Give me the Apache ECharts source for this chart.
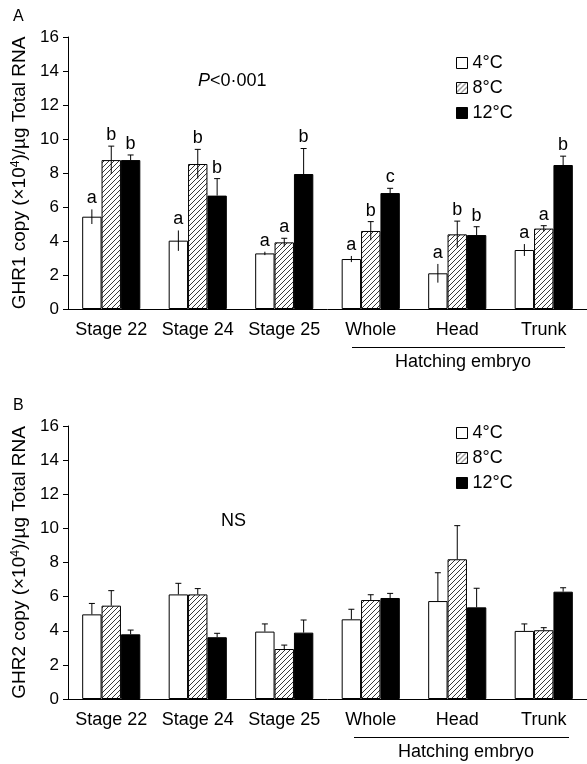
<!DOCTYPE html>
<html>
<head>
<meta charset="utf-8">
<script src="https://cdn.jsdelivr.net/npm/echarts@6/dist/echarts.min.js"></script>
<style>
  html, body { margin: 0; padding: 0; background: #fff; }
  #main { width: 587px; height: 764px; }
</style>
</head>
<body>
<div id="main"></div>
<script>
  var categories = ['Stage 22', 'Stage 24', 'Stage 25', 'Whole', 'Head', 'Trunk'];
  var temps = ['4°C', '8°C', '12°C'];
  var yTicks = [0, 2, 4, 6, 8, 10, 12, 14, 16];

  // panel A: GHR1
  var ghr1_4 = [5.43, 4.02, 3.27, 2.94, 2.10, 3.47];
  var ghr1_4_err = [0.43, 0.60, 0.10, 0.18, 0.55, 0.35];
  var ghr1_4_sig = ['a', 'a', 'a', 'a', 'a', 'a'];
  var ghr1_8 = [8.76, 8.53, 3.92, 4.59, 4.39, 4.73];
  var ghr1_8_err = [0.82, 0.86, 0.24, 0.55, 0.78, 0.17];
  var ghr1_8_sig = ['b', 'b', 'a', 'b', 'b', 'a'];
  var ghr1_12 = [8.76, 6.67, 7.94, 6.82, 4.35, 8.47];
  var ghr1_12_err = [0.30, 1.00, 1.50, 0.28, 0.49, 0.52];
  var ghr1_12_sig = ['b', 'b', 'b', 'c', 'b', 'b'];

  // panel B: GHR2
  var ghr2_4 = [4.96, 6.13, 3.95, 4.67, 5.74, 3.99];
  var ghr2_4_err = [0.64, 0.65, 0.45, 0.59, 1.66, 0.41];
  var ghr2_8 = [5.47, 6.13, 2.93, 5.80, 8.19, 4.03];
  var ghr2_8_err = [0.88, 0.34, 0.23, 0.31, 1.97, 0.15];
  var ghr2_12 = [3.79, 3.62, 3.89, 5.92, 5.37, 6.29];
  var ghr2_12_err = [0.25, 0.23, 0.74, 0.27, 1.12, 0.23];

  var FONT = '"Liberation Sans", Arial, sans-serif';
  var BAR_FRAC = 0.224;

  // diagonal hatch for the 8°C bars
  var hatch = document.createElement('canvas');
  hatch.width = 5; hatch.height = 5;
  (function () {
    var c = hatch.getContext('2d');
    c.fillStyle = '#fff';
    c.fillRect(0, 0, 5, 5);
    c.strokeStyle = '#222';
    c.lineWidth = 0.9;
    c.beginPath();
    c.moveTo(-1, 6); c.lineTo(6, -1);
    c.moveTo(-1, 1); c.lineTo(1, -1);
    c.moveTo(4, 6); c.lineTo(6, 4);
    c.stroke();
  })();

  var barStyles = [
    { color: '#fff', borderColor: '#000', borderWidth: 1 },
    { color: { image: hatch, repeat: 'repeat' }, borderColor: '#000', borderWidth: 1 },
    { color: '#000', borderColor: '#000', borderWidth: 1 }
  ];

  function errSeries(panel, slot, values, errs, letters, opts) {
    return {
      type: 'custom',
      xAxisIndex: panel,
      yAxisIndex: panel,
      z: 5,
      silent: true,
      clip: false,
      encode: { x: 0, y: 1 },
      data: values.map(function (v, i) { return [i, v, errs[i]]; }),
      renderItem: function (params, api) {
        var ci = api.value(0), v = api.value(1), e = api.value(2);
        var band = api.size([1, 0])[0];
        var bw = band * BAR_FRAC;
        var cx = api.coord([ci, v])[0] + (slot - 1) * bw;
        var yTop = api.coord([ci, v + e])[1];
        var yBot = api.coord([ci, opts.both ? v - e : v])[1];
        var kids = [{
          type: 'line',
          shape: { x1: cx, y1: yTop, x2: cx, y2: yBot },
          style: { stroke: '#000', lineWidth: 1 }
        }];
        if (opts.cap) {
          kids.push({
            type: 'line',
            shape: { x1: cx - 3, y1: yTop, x2: cx + 3, y2: yTop },
            style: { stroke: '#000', lineWidth: 1 }
          });
        }
        if (letters) {
          kids.push({
            type: 'text',
            style: {
              text: letters[params.dataIndex], x: cx, y: yTop - 2,
              align: 'center', verticalAlign: 'bottom',
              font: '18px ' + FONT, fill: '#000'
            }
          });
        }
        return { type: 'group', children: kids };
      }
    };
  }

  function barSeries(panel, slot, values) {
    return {
      type: 'bar',
      name: temps[slot],
      xAxisIndex: panel,
      yAxisIndex: panel,
      barWidth: (BAR_FRAC * 100) + '%',
      barGap: '0%',
      itemStyle: barStyles[slot],
      emphasis: { disabled: true },
      data: values
    };
  }

  function xAxis(grid) {
    return {
      type: 'category',
      gridIndex: grid,
      data: categories,
      axisLine: { lineStyle: { color: '#000', width: 1 } },
      axisTick: { length: 5, lineStyle: { color: '#000' } },
      axisLabel: { color: '#000', fontSize: 18, fontFamily: FONT, margin: 12, interval: 0 }
    };
  }

  function yAxis(grid, title) {
    return {
      type: 'value',
      gridIndex: grid,
      min: yTicks[0],
      max: yTicks[yTicks.length - 1],
      interval: 2,
      splitLine: { show: false },
      axisLine: { show: true, lineStyle: { color: '#000', width: 1 } },
      axisTick: { show: true, length: 5, lineStyle: { color: '#000' } },
      axisLabel: { color: '#000', fontSize: 17, fontFamily: FONT, margin: 9 },
      name: title,
      nameLocation: 'middle',
      nameRotate: 90,
      nameGap: 39,
      nameTextStyle: {
        color: '#000', fontSize: 19, fontFamily: FONT,
        rich: {
          t: { fontSize: 19, fontFamily: FONT, color: '#000' },
          s: { fontSize: 12, fontFamily: FONT, color: '#000', verticalAlign: 'top', lineHeight: 10 }
        }
      }
    };
  }

  function legend(top) {
    return {
      data: temps,
      orient: 'vertical',
      left: 451,
      top: top,
      icon: 'rect',
      itemWidth: 11,
      itemHeight: 11,
      itemGap: 7,
      selectedMode: false,
      itemStyle: { borderWidth: 1, borderColor: '#000' },
      textStyle: { color: '#000', fontSize: 18, fontFamily: FONT }
    };
  }

  var chart = echarts.init(document.getElementById('main'));

  var option = {
    animation: false,
    backgroundColor: '#fff',
    grid: [
      { left: 68, top: 37, width: 521, height: 272 },
      { left: 68, top: 426, width: 521, height: 273 }
    ],
    legend: [legend(49), legend(419)],
    xAxis: [xAxis(0), xAxis(1)],
    yAxis: [
      yAxis(0, '{t|GHR1 copy (×10}{s|4}{t|)/µg Total RNA}'),
      yAxis(1, '{t|GHR2 copy (×10}{s|4}{t|)/µg Total RNA}')
    ],
    series: [
      barSeries(0, 0, ghr1_4), barSeries(0, 1, ghr1_8), barSeries(0, 2, ghr1_12),
      barSeries(1, 0, ghr2_4), barSeries(1, 1, ghr2_8), barSeries(1, 2, ghr2_12),
      errSeries(0, 0, ghr1_4, ghr1_4_err, ghr1_4_sig, { both: true, cap: false }),
      errSeries(0, 1, ghr1_8, ghr1_8_err, ghr1_8_sig, { both: true, cap: true }),
      errSeries(0, 2, ghr1_12, ghr1_12_err, ghr1_12_sig, { both: false, cap: true }),
      errSeries(1, 0, ghr2_4, ghr2_4_err, null, { both: false, cap: true }),
      errSeries(1, 1, ghr2_8, ghr2_8_err, null, { both: false, cap: true }),
      errSeries(1, 2, ghr2_12, ghr2_12_err, null, { both: false, cap: true })
    ],
    graphic: [
      { type: 'text', left: 13, top: 9, style: { text: 'A', font: '16px ' + FONT, fill: '#000' } },
      { type: 'text', left: 13, top: 398, style: { text: 'B', font: '16px ' + FONT, fill: '#000' } },
      {
        type: 'text', left: 198, top: 72,
        style: {
          text: '{i|P}{n|<0·001}',
          rich: {
            i: { font: 'italic 18px ' + FONT, fill: '#000' },
            n: { font: '18px ' + FONT, fill: '#000' }
          }
        }
      },
      { type: 'text', left: 221, top: 512, style: { text: 'NS', font: '18px ' + FONT, fill: '#000' } },
      // hatching embryo brackets
      { type: 'line', shape: { x1: 352, y1: 347.5, x2: 565, y2: 347.5 }, style: { stroke: '#000', lineWidth: 1 } },
      { type: 'text', x: 463, y: 362, style: { text: 'Hatching embryo', font: '18px ' + FONT, fill: '#000', align: 'center', verticalAlign: 'middle' } },
      { type: 'line', shape: { x1: 354, y1: 737.5, x2: 569, y2: 737.5 }, style: { stroke: '#000', lineWidth: 1 } },
      { type: 'text', x: 466, y: 752, style: { text: 'Hatching embryo', font: '18px ' + FONT, fill: '#000', align: 'center', verticalAlign: 'middle' } }
    ]
  };

  chart.setOption(option);
</script>
</body>
</html>
